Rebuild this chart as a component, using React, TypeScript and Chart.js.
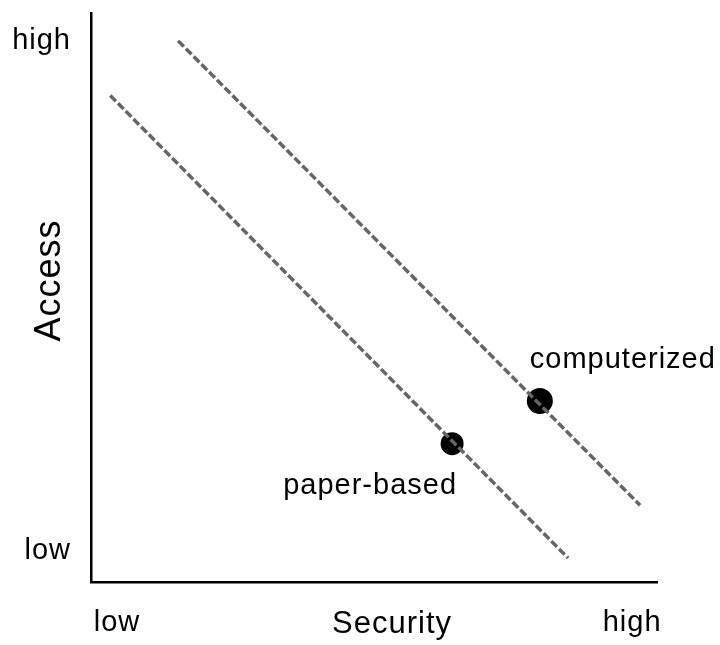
import React, { useEffect, useRef } from "react";
import { Chart, registerables } from "chart.js";

Chart.register(...registerables);

// Tick positions & labels (axis units 0..10)
const xTickValues = [0.46, 5.32, 9.56];
const xTickLabels = ["low", "Security", "high"];
const yTickValues = [0.54, 9.51];
const yTickLabels = ["low", "high"];
const yAxisTitle = "Access";

// Trade-off lines (start, end)
const computerizedLine = [
  { x: 1.54, y: 9.51 },
  { x: 9.7, y: 1.35 },
];
const paperLine = [
  { x: 0.34, y: 8.55 },
  { x: 8.43, y: 0.42 },
];

// Marked points
const pointNames = ["computerized", "paper-based"];
const pointValues = [
  { x: 7.93, y: 3.18 },
  { x: 6.38, y: 2.43 },
];
const pointRadii = [13, 11.5];

const FONT = "'Liberation Sans', Arial, Helvetica, sans-serif";

export default function App() {
  const ref = useRef<HTMLCanvasElement | null>(null);

  useEffect(() => {
    if (!ref.current) return;

    const spacingPlugin = {
      id: "spacingPlugin",
      beforeInit(chart: any) {
        chart.ctx.letterSpacing = "1px";
      },
      beforeDraw(chart: any) {
        chart.ctx.letterSpacing = "1px";
      },
    };

    const labelPlugin = {
      id: "labelPlugin",
      afterDatasetsDraw(chart: any) {
        const ctx = chart.ctx;
        ctx.save();
        ctx.letterSpacing = "1px";
        ctx.fillStyle = "#000";
        ctx.textAlign = "center";
        ctx.textBaseline = "middle";
        ctx.font = `29px ${FONT}`;
        const meta = chart.getDatasetMeta(2);
        const offsets = [
          { dx: 83, dy: -41 },
          { dx: -82, dy: 42 },
        ];
        meta.data.forEach((el: any, i: number) => {
          ctx.fillText(pointNames[i], el.x + offsets[i].dx, el.y + offsets[i].dy);
        });
        // vertical axis title
        const ya = chart.scales.y;
        ctx.translate(50, ya.getPixelForValue(5.3));
        ctx.rotate(-Math.PI / 2);
        ctx.font = `36px ${FONT}`;
        ctx.fillText(yAxisTitle, 0, 0);
        ctx.restore();
      },
    };

    const chart = new Chart(ref.current, {
      type: "scatter",
      data: {
        datasets: [
          {
            data: computerizedLine,
            showLine: true,
            borderColor: "#666",
            borderWidth: 3.5,
            borderDash: [8, 3],
            pointRadius: 0,
          },
          {
            data: paperLine,
            showLine: true,
            borderColor: "#666",
            borderWidth: 3.5,
            borderDash: [8, 3],
            pointRadius: 0,
          },
          {
            data: pointValues,
            pointRadius: pointRadii,
            pointHoverRadius: pointRadii,
            backgroundColor: "#000",
            borderColor: "#000",
            borderWidth: 0,
          },
        ],
      },
      options: {
        responsive: false,
        animation: false,
        events: [],
        layout: { padding: { top: 10, right: 63, left: 0, bottom: 0 } },
        plugins: {
          legend: { display: false },
          tooltip: { enabled: false },
          title: { display: false },
        },
        scales: {
          x: {
            type: "linear",
            min: 0,
            max: 10,
            grid: { display: false, drawTicks: false },
            border: { display: true, color: "#000", width: 2.5 },
            afterBuildTicks: (axis: any) => {
              axis.ticks = xTickValues.map((v) => ({ value: v }));
            },
            afterFit: (axis: any) => {
              axis.height = 63;
              axis.paddingLeft = 0;
              axis.paddingRight = 0;
              axis.paddingTop = 0;
              axis.paddingBottom = 0;
            },
            ticks: {
              autoSkip: false,
              maxRotation: 0,
              minRotation: 0,
              padding: 24,
              color: "#000",
              font: (c: any) => ({ size: c.index === 1 ? 31 : 29, family: FONT }),
              callback: (_v: any, i: number) => xTickLabels[i],
            },
          },
          y: {
            type: "linear",
            min: 0,
            max: 10,
            grid: { display: false, drawTicks: false },
            border: { display: true, color: "#000", width: 2.5 },
            afterBuildTicks: (axis: any) => {
              axis.ticks = yTickValues.map((v) => ({ value: v }));
            },
            afterFit: (axis: any) => {
              axis.width = 91;
              axis.paddingLeft = 0;
              axis.paddingRight = 0;
              axis.paddingTop = 0;
              axis.paddingBottom = 0;
            },
            ticks: {
              autoSkip: false,
              padding: 20,
              color: "#000",
              font: { size: 29, family: FONT },
              callback: (_v: any, i: number) => yTickLabels[i],
            },
          },
        },
      },
      plugins: [spacingPlugin, labelPlugin],
    } as any);

    return () => chart.destroy();
  }, []);

  return (
    <div style={{ position: "absolute", left: 0, top: 0, width: 720, height: 645, background: "#fff" }}>
      <canvas ref={ref} width={720} height={645} style={{ display: "block" }} />
    </div>
  );
}
